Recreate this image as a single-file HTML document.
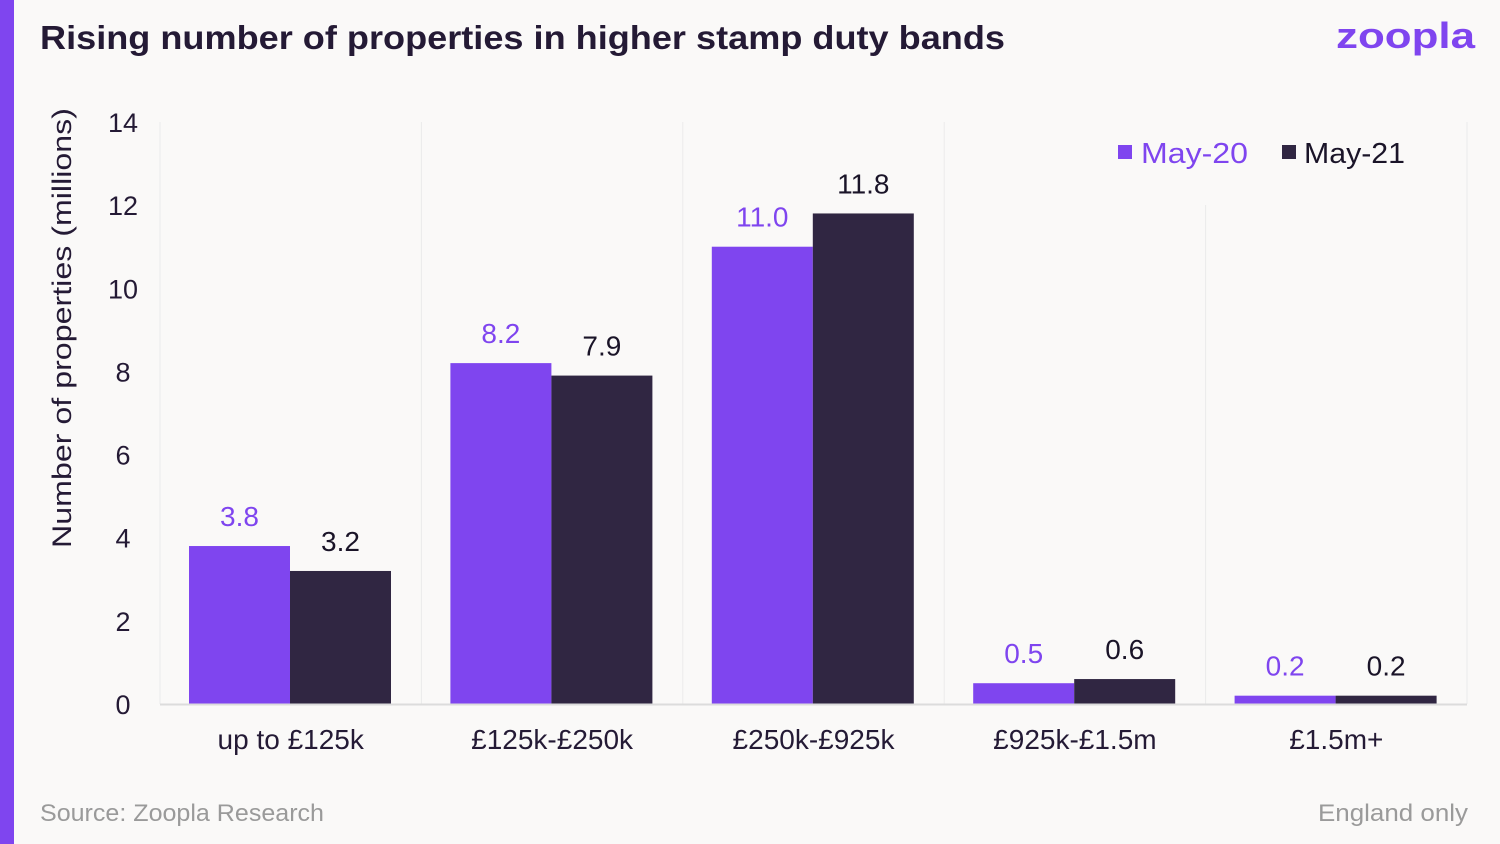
<!DOCTYPE html>
<html><head><meta charset="utf-8"><style>
html,body{margin:0;padding:0;background:#faf9f8;}
svg{display:block;font-family:"Liberation Sans",sans-serif;}
</style></head><body>
<svg id="chart" width="1500" height="844" viewBox="0 0 1500 844">
<rect x="0" y="0" width="1500" height="844" fill="#faf9f8"/>
<rect x="0" y="0" width="14" height="844" fill="#7f45ef"/>
<text x="40" y="49" font-size="33" font-weight="bold" fill="#241a35" textLength="965" lengthAdjust="spacingAndGlyphs">Rising number of properties in higher stamp duty bands</text>
<text x="1475" y="48" text-anchor="end" font-size="36" font-weight="bold" fill="#7f45ef" textLength="139" lengthAdjust="spacingAndGlyphs">zoopla</text>
<text transform="translate(71,328) rotate(-90)" text-anchor="middle" font-size="27" fill="#241a35" textLength="440" lengthAdjust="spacingAndGlyphs">Number of properties (millions)</text>
<g id="grid"></g><g id="yticks"></g><g id="bars"></g><g id="xlabels"></g>
<line x1="160" y1="704.5" x2="1467" y2="704.5" stroke="#dcdcdc" stroke-width="2"/>
<rect x="1118" y="145" width="14" height="14" fill="#7f45ef"/>
<text x="1141" y="163" font-size="29" fill="#7f45ef" textLength="107" lengthAdjust="spacingAndGlyphs">May-20</text>
<rect x="1282" y="145" width="14" height="14" fill="#302642"/>
<text x="1304" y="163" font-size="29" fill="#1a1428" textLength="101" lengthAdjust="spacingAndGlyphs">May-21</text>
<text x="40" y="821" font-size="24" fill="#9a9a9a" textLength="284" lengthAdjust="spacingAndGlyphs">Source: Zoopla Research</text>
<text x="1468" y="821" text-anchor="end" font-size="24" fill="#9a9a9a" textLength="150" lengthAdjust="spacingAndGlyphs">England only</text>
</svg>
<script>
const categories = ["up to £125k","£125k-£250k","£250k-£925k","£925k-£1.5m","£1.5m+"];
const may20 = [3.8, 8.2, 11.0, 0.5, 0.2];
const may21 = [3.2, 7.9, 11.8, 0.6, 0.2];
const yTicks = [0,2,4,6,8,10,12,14];
const NS="http://www.w3.org/2000/svg";
const x0=160,x1=1467,yb=704,yt=122,ymax=14;
const gw=(x1-x0)/categories.length;
function y(v){return yb-(v/ymax)*(yb-yt);}
function mk(tag,attrs,parent,txt){const e=document.createElementNS(NS,tag);for(const k in attrs)e.setAttribute(k,attrs[k]);if(txt!==undefined)e.textContent=txt;document.getElementById(parent).appendChild(e);return e;}
for(let i=0;i<=categories.length;i++){
  const gx=x0+i*gw;
  const top=(i===4)?205:yt;
  const l=mk('line',{x1:gx,x2:gx,y1:top,y2:yb,stroke:'#ebebeb','stroke-width':1},'grid');
  
  
}
yTicks.forEach(t=>{
  const e=mk('text',{x:123,y:y(t)+10,'text-anchor':'middle','font-size':27,fill:'#241a35'},'yticks',String(t));
  
  
});
const bw=101;
categories.forEach((c,i)=>{
  const gx=x0+i*gw+29;
  const a=mk('rect',{x:gx,y:y(may20[i]),width:bw,height:yb-y(may20[i]),fill:'#7f45ef'},'bars');
  
  
  const b=mk('rect',{x:gx+bw,y:y(may21[i]),width:bw,height:yb-y(may21[i]),fill:'#302642'},'bars');
  
  
  const la=mk('text',{x:gx+bw/2,y:y(may20[i])-20,'text-anchor':'middle','font-size':28,fill:'#7f45ef'},'bars',may20[i].toFixed(1));
  
  
  const lb=mk('text',{x:gx+bw*1.5,y:y(may21[i])-20,'text-anchor':'middle','font-size':28,fill:'#1a1428'},'bars',may21[i].toFixed(1));
  
  
  const xl=mk('text',{x:x0+i*gw+gw/2,y:749,'text-anchor':'middle','font-size':28,fill:'#241a35'},'xlabels',c);
  
  
});
</script>
</body></html>
